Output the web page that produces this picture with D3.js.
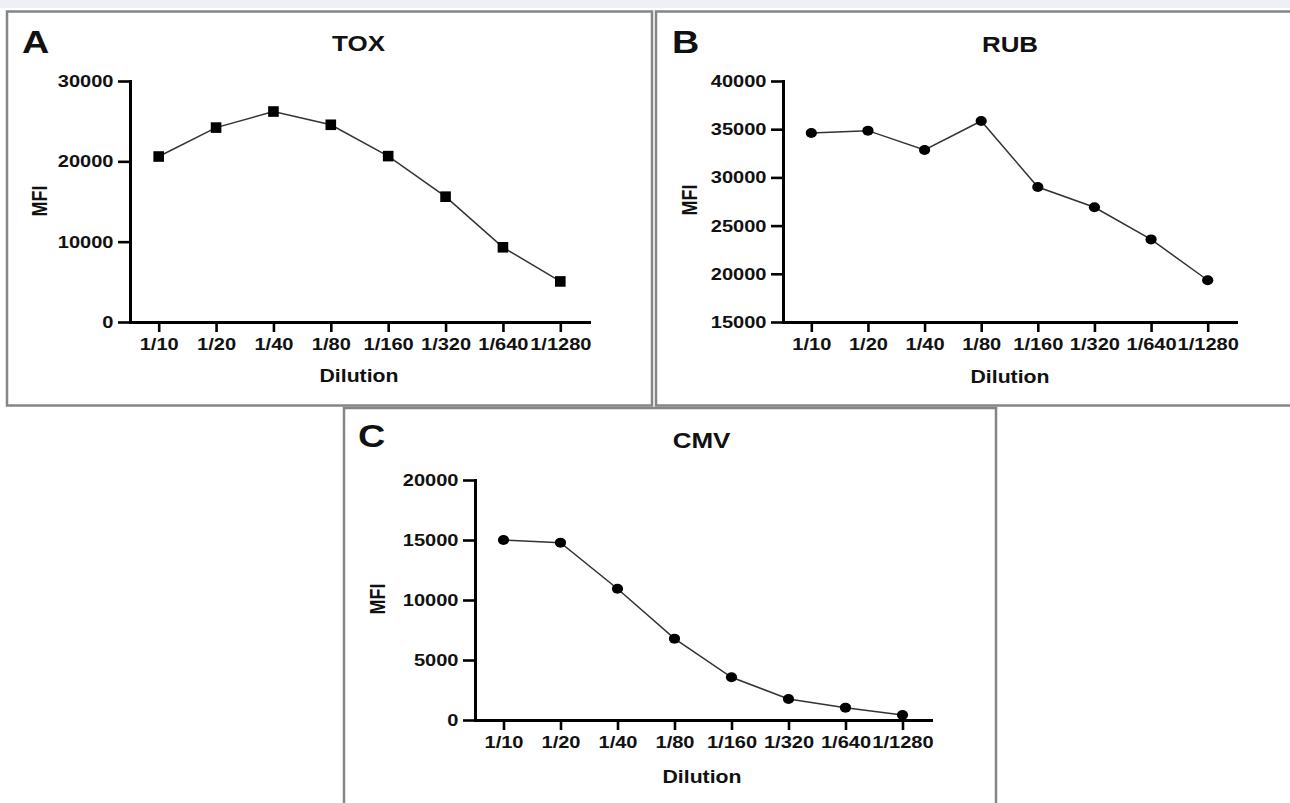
<!DOCTYPE html>
<html>
<head>
<meta charset="utf-8">
<script src="https://cdn.jsdelivr.net/npm/d3@7"></script>
<style>
  body { margin: 0; background: #fff; }
  svg { display: block; }
  text { font-family: "Liberation Sans", Arial, Helvetica, sans-serif; font-weight: bold; fill: #111; }
</style>
</head>
<body>
<svg width="1290" height="803"></svg>
<script>
// data
var dilutions = ["1/10", "1/20", "1/40", "1/80", "1/160", "1/320", "1/640", "1/1280"];
var toxMFI = [20600, 24200, 26200, 24550, 20650, 15600, 9300, 5050];
var rubMFI = [34600, 34850, 32850, 35850, 29000, 26900, 23570, 19330];
var cmvMFI = [15000, 14780, 10940, 6780, 3560, 1750, 1030, 420];
var toxTicks = [0, 10000, 20000, 30000];
var rubTicks = [15000, 20000, 25000, 30000, 35000, 40000];
var cmvTicks = [0, 5000, 10000, 15000, 20000];

var svg = d3.select("svg");
var sx = 1.18; // the original image is a bit stretched sideways

// top strip + panel frames
svg.append("rect").attr("x", 0).attr("y", 0).attr("width", 1290).attr("height", 8).attr("fill", "#eef0f5");

function frame(x, y, w, h) {
    svg.append("rect")
        .attr("x", x).attr("y", y).attr("width", w).attr("height", h)
        .attr("fill", "#fff")
        .attr("stroke", "#858585")
        .attr("stroke-width", 2.5);
}
frame(7, 11.5, 645, 394);
frame(656, 11.5, 650, 394);
frame(344, 408, 652, 410);

function stretchedText(x, y, str, size) {
    return svg.append("text")
        .attr("transform", "translate(" + x + "," + y + ") scale(" + sx + ",1)")
        .attr("text-anchor", "middle")
        .style("font-size", size + "px")
        .text(str);
}

function drawPanel(p) {
    var x = d3.scalePoint().domain(dilutions).range([p.axisX, p.xEnd]).padding(0.5);
    var y = d3.scaleLinear().domain(p.domain).range([p.yBottom, p.yTop]);

    // panel letter, title, axis titles
    svg.append("text")
        .attr("transform", "translate(" + p.letterX + "," + p.letterY + ") scale(" + sx + ",1)")
        .style("font-size", "32px")
        .text(p.letter);
    stretchedText(p.titleX, p.titleY, p.title, 22);
    stretchedText(p.dilX, p.dilY, "Dilution", 18);
    svg.append("text")
        .attr("transform", "translate(" + p.mfiX + "," + p.mfiY + ") scale(" + sx + ",1) rotate(-90)")
        .attr("text-anchor", "middle")
        .style("font-size", "18px")
        .text("MFI");

    var gx = svg.append("g")
        .attr("transform", "translate(0," + p.yBottom + ")")
        .call(d3.axisBottom(x).tickSize(10).tickSizeOuter(0).tickPadding(6));
    var gy = svg.append("g")
        .attr("transform", "translate(" + p.axisX + ",0)")
        .call(d3.axisLeft(y).tickValues(p.ticks).tickSize(12).tickSizeOuter(0).tickPadding(2).tickFormat(d3.format("d")));

    [gx, gy].forEach(function(g) {
        g.select(".domain").attr("stroke", "#000").attr("stroke-width", 3).attr("stroke-linecap", "square");
        g.selectAll(".tick line").attr("stroke", "#000").attr("stroke-width", 2.6);
        g.selectAll(".tick text")
            .attr("font-family", null).attr("font-size", null)
            .style("font-size", "17px")
            .attr("transform", "scale(" + sx + ",1)");
    });

    var pts = dilutions.map(function(d, i) { return [x(d), y(p.values[i])]; });

    svg.append("path")
        .datum(pts)
        .attr("fill", "none")
        .attr("stroke", "#333")
        .attr("stroke-width", 1.5)
        .attr("d", d3.line());

    if (p.marker == "square") {
        svg.selectAll(null).data(pts).enter().append("rect")
            .attr("x", function(d) { return d[0] - 5.3; })
            .attr("y", function(d) { return d[1] - 5.3; })
            .attr("width", 10.6).attr("height", 10.6)
            .attr("fill", "#000");
    } else {
        svg.selectAll(null).data(pts).enter().append("ellipse")
            .attr("cx", function(d) { return d[0]; })
            .attr("cy", function(d) { return d[1]; })
            .attr("rx", 5.6).attr("ry", 5)
            .attr("fill", "#000");
    }
}

drawPanel({
    letter: "A", letterX: 22, letterY: 53,
    title: "TOX", titleX: 358.5, titleY: 51,
    dilX: 359, dilY: 382, mfiX: 47, mfiY: 201,
    axisX: 130, xEnd: 589, yTop: 81, yBottom: 322,
    domain: [0, 30000], ticks: toxTicks, values: toxMFI, marker: "square"
});

drawPanel({
    letter: "B", letterX: 672, letterY: 53,
    title: "RUB", titleX: 1010, titleY: 52,
    dilX: 1010, dilY: 383, mfiX: 697, mfiY: 200,
    axisX: 783, xEnd: 1236, yTop: 81, yBottom: 322,
    domain: [15000, 40000], ticks: rubTicks, values: rubMFI, marker: "circle"
});

drawPanel({
    letter: "C", letterX: 358, letterY: 447,
    title: "CMV", titleX: 701.5, titleY: 448,
    dilX: 702, dilY: 783, mfiX: 385, mfiY: 599,
    axisX: 475, xEnd: 931, yTop: 480, yBottom: 720,
    domain: [0, 20000], ticks: cmvTicks, values: cmvMFI, marker: "circle"
});
</script>
</body>
</html>
